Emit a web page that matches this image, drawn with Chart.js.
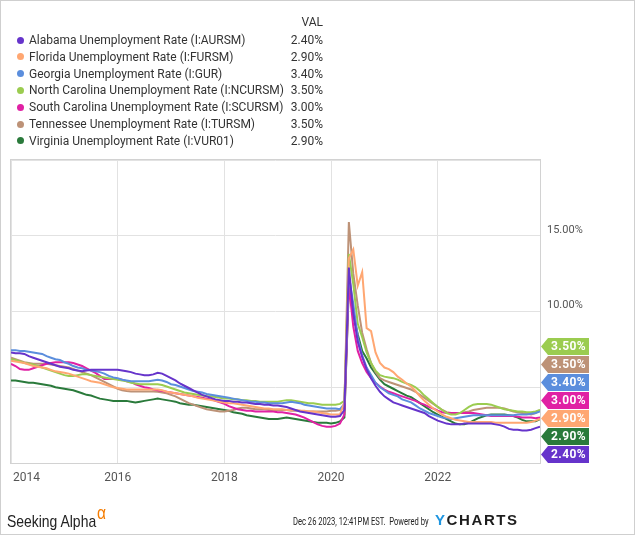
<!DOCTYPE html>
<html>
<head>
<meta charset="utf-8">
<script src="https://cdn.jsdelivr.net/npm/chart.js@4"></script>
<style>
  body { margin: 0; background: #fff; font-family: Roboto, sans-serif; }
  #wrap { position: relative; width: 635px; height: 535px; overflow: hidden; background: #fff; }
  #chart { position: absolute; left: 0; top: 0; }
  #frame { position: absolute; left: 0; top: 0; width: 635px; height: 535px; box-sizing: border-box; border: 1px solid #cfcfcf; pointer-events: none; }
  #legend { position: absolute; left: 0; top: 0; font-size: 12px; color: #333; }
  .row { position: absolute; height: 16px; line-height: 16px; white-space: nowrap; }
  .dot { position: absolute; width: 7px; height: 7px; border-radius: 50%; }
  .val { position: absolute; width: 60px; text-align: right; }
  #sa { position: absolute; left: 7px; top: 503px; font-family: "Liberation Sans", sans-serif; font-size: 17px; color: #222; transform: scaleX(0.82); transform-origin: left; white-space: nowrap; }
  #sa sup { color: #f57c00; font-size: 19px; position: relative; top: -1px; margin-left: 1px; }
  #stamp { position: absolute; left: 293px; top: 515px; font-size: 11px; color: #222; transform: scaleX(0.69); transform-origin: left; white-space: nowrap; }
  #yc { position: absolute; left: 435px; top: 511px; font-family: "Liberation Sans", sans-serif; font-weight: bold; font-size: 15px; letter-spacing: 1.6px; color: #1d1d1d; white-space: nowrap; }
  #yc span { color: #1e95e0; }
</style>
</head>
<body>
<div id="wrap">
  <canvas id="chart" width="635" height="535"></canvas>
  <div id="legend"></div>
  <div id="sa">Seeking Alpha<sup>α</sup></div>
  <div id="stamp">Dec 26 2023, 12:41PM EST.&nbsp;&nbsp;Powered by</div>
  <div id="yc"><span>Y</span>CHARTS</div>
  <div id="frame"></div>
</div>
<script>
// monthly values, Dec 2013 .. Nov 2023, plotted at month end
const startYear = 2013;
const startMonth = 12;

const names = [
  'Alabama Unemployment Rate (I:AURSM)',
  'Florida Unemployment Rate (I:FURSM)',
  'Georgia Unemployment Rate (I:GUR)',
  'North Carolina Unemployment Rate (I:NCURSM)',
  'South Carolina Unemployment Rate (I:SCURSM)',
  'Tennessee Unemployment Rate (I:TURSM)',
  'Virginia Unemployment Rate (I:VUR01)',
];
const colors = ['#6634cb', '#ffa772', '#5b8edd', '#9bcc50', '#e021a4', '#bd9277', '#2a7a3b'];

const alabama = [7.3,
  7.25, 7.25, 7.2, 7.05, 6.95, 6.85, 6.75, 6.65, 6.55, 6.45, 6.35, 6.3,
  6.25, 6.15, 6.1, 6.05, 6.1, 6.15, 6.15, 6.15, 6.15, 6.15, 6.15, 6.15,
  6.1, 6.05, 6.0, 5.9, 5.85, 5.8, 5.8, 5.85, 5.95, 5.9, 5.75, 5.6,
  5.45, 5.25, 5.1, 4.95, 4.8, 4.65, 4.5, 4.4, 4.3, 4.2, 4.15, 4.1,
  4.1, 4.05, 4.05, 4.0, 4.0, 3.95, 3.9, 3.9, 3.85, 3.85, 3.8, 3.8,
  3.75, 3.7, 3.6, 3.5, 3.4, 3.35, 3.3, 3.25, 3.2, 3.15, 3.1, 3.05,
  3.05, 3.1, 3.5, 12.9, 9.9, 8.0, 7.0, 6.2, 5.6, 5.1, 4.7, 4.4,
  4.2, 4.0, 3.9, 3.8, 3.7, 3.6, 3.5, 3.4, 3.3, 3.1, 2.95, 2.8,
  2.7, 2.6, 2.55, 2.55, 2.55, 2.6, 2.6, 2.6, 2.6, 2.6, 2.6, 2.6,
  2.55, 2.5, 2.4, 2.25, 2.2, 2.2, 2.15, 2.15, 2.2, 2.3, 2.4];

const florida = [6.75,
  6.7, 6.65, 6.6, 6.5, 6.4, 6.35, 6.3, 6.25, 6.15, 6.05, 6.0, 5.95,
  5.9, 5.8, 5.7, 5.6, 5.5, 5.4, 5.35, 5.3, 5.2, 5.1, 5.0, 4.95,
  4.9, 4.85, 4.85, 4.85, 4.85, 4.85, 4.85, 4.85, 4.85, 4.8, 4.7, 4.65,
  4.6, 4.55, 4.5, 4.45, 4.4, 4.3, 4.25, 4.2, 4.15, 4.1, 4.05, 4.0,
  3.95, 3.95, 3.9, 3.85, 3.8, 3.75, 3.7, 3.65, 3.6, 3.6, 3.55, 3.55,
  3.55, 3.5, 3.5, 3.5, 3.45, 3.45, 3.4, 3.4, 3.35, 3.3, 3.25, 3.2,
  3.2, 3.2, 4.0, 13.5, 14.1, 11.7, 12.6, 8.9, 8.7, 7.3, 6.6, 6.3,
  6.2, 6.0, 5.7, 5.5, 5.25, 5.05, 4.75, 4.4, 4.1, 3.85, 3.6, 3.4,
  3.2, 3.05, 2.95, 2.85, 2.8, 2.75, 2.7, 2.7, 2.7, 2.7, 2.7, 2.7,
  2.65, 2.65, 2.65, 2.65, 2.65, 2.65, 2.65, 2.65, 2.7, 2.8, 2.9];

const georgia = [7.45,
  7.45, 7.4, 7.4, 7.35, 7.3, 7.25, 7.2, 7.05, 6.95, 6.85, 6.8, 6.65,
  6.55, 6.4, 6.3, 6.25, 6.15, 6.1, 6.05, 6.0, 5.9, 5.75, 5.65, 5.6,
  5.5, 5.45, 5.4, 5.4, 5.4, 5.4, 5.4, 5.45, 5.5, 5.45, 5.35, 5.2,
  5.15, 5.05, 4.95, 4.85, 4.75, 4.7, 4.65, 4.55, 4.5, 4.45, 4.4, 4.35,
  4.3, 4.25, 4.2, 4.15, 4.1, 4.05, 4.05, 4.0, 4.0, 3.95, 3.95, 3.95,
  3.95, 4.0, 4.05, 4.0, 3.95, 3.85, 3.8, 3.75, 3.7, 3.65, 3.6, 3.6,
  3.6, 3.55, 3.9, 12.4, 10.5, 8.3, 7.1, 6.3, 5.8, 5.3, 5.0, 4.8,
  4.6, 4.5, 4.4, 4.2, 4.1, 4.0, 3.8, 3.6, 3.45, 3.3, 3.2, 3.1,
  3.0, 2.95, 2.9, 2.95, 3.0, 3.05, 3.1, 3.15, 3.15, 3.15, 3.15, 3.15,
  3.15, 3.15, 3.15, 3.15, 3.15, 3.2, 3.2, 3.2, 3.25, 3.3, 3.4];

const northCarolina = [6.85,
  6.8, 6.7, 6.6, 6.55, 6.5, 6.4, 6.3, 6.2, 6.1, 6.0, 5.9, 5.8,
  5.75, 5.75, 5.8, 5.85, 5.85, 5.8, 5.75, 5.7, 5.65, 5.6, 5.55, 5.5,
  5.45, 5.4, 5.3, 5.25, 5.2, 5.2, 5.2, 5.2, 5.2, 5.15, 5.05, 4.95,
  4.85, 4.75, 4.65, 4.6, 4.55, 4.5, 4.45, 4.4, 4.4, 4.35, 4.3, 4.25,
  4.25, 4.2, 4.2, 4.15, 4.15, 4.1, 4.1, 4.05, 4.05, 4.05, 4.05, 4.05,
  4.1, 4.15, 4.15, 4.1, 4.05, 4.0, 3.95, 3.95, 3.9, 3.85, 3.85, 3.85,
  3.85, 3.9, 4.1, 13.8, 11.8, 9.2, 8.3, 7.3, 6.6, 6.1, 5.8, 5.7,
  5.65, 5.6, 5.5, 5.35, 5.25, 5.15, 5.0, 4.75, 4.45, 4.2, 3.95, 3.7,
  3.5, 3.3, 3.2, 3.2, 3.3, 3.5, 3.7, 3.85, 3.9, 3.9, 3.9, 3.85,
  3.75, 3.65, 3.55, 3.5, 3.45, 3.4, 3.4, 3.35, 3.35, 3.4, 3.5];

const southCarolina = [6.55,
  6.4, 6.2, 6.15, 6.15, 6.25, 6.35, 6.45, 6.55, 6.6, 6.65, 6.65, 6.65,
  6.65, 6.6, 6.5, 6.4, 6.25, 6.1, 5.95, 5.75, 5.55, 5.55, 5.55, 5.55,
  5.5, 5.4, 5.35, 5.2, 5.1, 5.0, 4.95, 4.85, 4.8, 4.75, 4.7, 4.65,
  4.6, 4.55, 4.5, 4.45, 4.4, 4.35, 4.3, 4.25, 4.2, 4.1, 4.0, 3.9,
  3.75, 3.65, 3.55, 3.5, 3.45, 3.45, 3.4, 3.4, 3.4, 3.4, 3.4, 3.35,
  3.35, 3.3, 3.25, 3.2, 3.1, 3.0, 2.85, 2.7, 2.55, 2.45, 2.4, 2.4,
  2.45, 2.6, 3.2, 11.8, 9.0, 7.4, 6.6, 6.0, 5.6, 5.3, 5.05, 4.85,
  4.7, 4.6, 4.5, 4.4, 4.3, 4.2, 4.1, 3.95, 3.85, 3.7, 3.6, 3.45,
  3.35, 3.3, 3.3, 3.3, 3.3, 3.3, 3.3, 3.3, 3.25, 3.2, 3.15, 3.1,
  3.1, 3.1, 3.1, 3.1, 3.1, 3.05, 3.0, 3.0, 3.0, 2.95, 3.0];

const tennessee = [6.95,
  6.85, 6.75, 6.65, 6.6, 6.55, 6.55, 6.55, 6.55, 6.5, 6.45, 6.4, 6.35,
  6.3, 6.2, 6.1, 6.0, 5.9, 5.8, 5.65, 5.5, 5.35, 5.2, 5.05, 4.9,
  4.8, 4.75, 4.72, 4.72, 4.72, 4.72, 4.72, 4.72, 4.7, 4.65, 4.6, 4.5,
  4.4, 4.25, 4.1, 3.95, 3.85, 3.75, 3.65, 3.55, 3.5, 3.45, 3.4, 3.4,
  3.45, 3.5, 3.6, 3.65, 3.65, 3.6, 3.55, 3.55, 3.55, 3.5, 3.5, 3.5,
  3.5, 3.5, 3.45, 3.45, 3.45, 3.4, 3.4, 3.4, 3.4, 3.4, 3.4, 3.45,
  3.45, 3.5, 3.65, 15.9, 12.5, 10.4, 8.6, 7.5, 6.6, 6.0, 5.6, 5.45,
  5.35, 5.25, 5.15, 5.05, 4.95, 4.85, 4.7, 4.5, 4.3, 4.1, 3.9, 3.7,
  3.5, 3.35, 3.3, 3.3, 3.3, 3.35, 3.4, 3.5, 3.55, 3.6, 3.65, 3.65,
  3.65, 3.65, 3.6, 3.5, 3.4, 3.35, 3.3, 3.25, 3.2, 3.3, 3.5];

const virginia = [5.45,
  5.45, 5.4, 5.35, 5.3, 5.3, 5.25, 5.2, 5.15, 5.1, 5.0, 4.95, 4.9,
  4.85, 4.8, 4.7, 4.6, 4.5, 4.45, 4.35, 4.25, 4.2, 4.15, 4.1, 4.1,
  4.1, 4.1, 4.05, 4.0, 4.05, 4.1, 4.15, 4.2, 4.25, 4.2, 4.15, 4.1,
  4.05, 3.95, 3.9, 3.85, 3.85, 3.8, 3.75, 3.7, 3.65, 3.6, 3.55, 3.5,
  3.45, 3.35, 3.3, 3.25, 3.15, 3.1, 3.05, 3.0, 2.95, 2.9, 2.9, 2.9,
  2.95, 3.0, 2.95, 2.9, 2.85, 2.8, 2.75, 2.7, 2.65, 2.65, 2.65, 2.6,
  2.65, 2.75, 3.0, 11.7, 9.8, 8.5, 7.4, 6.9, 6.3, 5.9, 5.5, 5.2,
  5.05, 4.9, 4.75, 4.6, 4.45, 4.35, 4.15, 3.95, 3.75, 3.55, 3.35, 3.2,
  3.05, 2.9, 2.75, 2.6, 2.55, 2.55, 2.65, 2.8, 2.95, 3.05, 3.15, 3.2,
  3.2, 3.2, 3.2, 3.15, 3.1, 3.0, 2.85, 2.75, 2.75, 2.75, 2.9];

const seriesValues = [alabama, florida, georgia, northCarolina, southCarolina, tennessee, virginia];

const xTicks = [2014, 2016, 2018, 2020, 2022];
const yTicks = [0, 5, 10, 15, 20];
const yLabels = [10, 15];

function monthEnd(i) {
  return startYear + (startMonth + i) / 12;
}

function pct(v) {
  return v.toFixed(2) + '%';
}

// legend table
const legend = document.getElementById('legend');
const head = document.createElement('div');
head.className = 'val';
head.style.cssText = 'left:263px;top:14px;line-height:16px;';
head.textContent = 'VAL';
legend.appendChild(head);
names.forEach((name, i) => {
  const y = 32 + i * 16.8;
  const dot = document.createElement('div');
  dot.className = 'dot';
  dot.style.cssText = `left:16.5px;top:${y + 4.5}px;background:${colors[i]};`;
  legend.appendChild(dot);
  const row = document.createElement('div');
  row.className = 'row';
  row.style.cssText = `left:29px;top:${y}px;`;
  row.textContent = name;
  legend.appendChild(row);
  const vals = seriesValues[i];
  const val = document.createElement('div');
  val.className = 'val';
  val.style.cssText = `left:263px;top:${y}px;line-height:16px;`;
  val.textContent = pct(vals[vals.length - 1]);
  legend.appendChild(val);
});

const framePlugin = {
  id: 'frame',
  beforeDatasetsDraw(chart) {
    const { ctx, chartArea: a } = chart;
    ctx.save();
    ctx.strokeStyle = '#d2d2d2';
    ctx.lineWidth = 1;
    ctx.strokeRect(Math.round(a.left) - 0.5, Math.round(a.top) - 0.5, a.right - a.left + 1, a.bottom - a.top + 1);
    ctx.restore();
  },
};

const xLabelPlugin = {
  id: 'xLabels',
  afterDraw(chart) {
    const { ctx, chartArea: a, scales } = chart;
    ctx.save();
    ctx.font = '12px Roboto';
    ctx.fillStyle = '#555';
    ctx.textBaseline = 'middle';
    xTicks.forEach((t, i) => {
      const px = scales.x.getPixelForValue(t);
      ctx.textAlign = i === 0 ? 'left' : 'center';
      ctx.fillText(String(t), i === 0 ? px + 2 : px, a.bottom + 15);
    });
    ctx.restore();
  },
};

const flagPlugin = {
  id: 'flags',
  afterDraw(chart) {
    const { ctx, chartArea: a, scales } = chart;
    const h = 17;
    const step = 18;
    const items = chart.data.datasets.map((ds, i) => {
      const last = ds.data[ds.data.length - 1].y;
      return { i, v: last, color: ds.borderColor, want: scales.y.getPixelForValue(last) };
    }).sort((p, q) => q.v - p.v || p.i - q.i);
    const mean = items.reduce((s, it) => s + it.want, 0) / items.length;
    let first = mean - (items.length - 1) * step / 2;
    first = Math.min(first, a.bottom - h / 2 - (items.length - 1) * step);
    first = Math.max(first, a.top + h / 2);
    ctx.save();
    ctx.font = 'bold 12px Roboto';
    ctx.textAlign = 'center';
    ctx.textBaseline = 'middle';
    if ('letterSpacing' in ctx) ctx.letterSpacing = '0.4px';
    items.forEach((it, k) => {
      const cy = first + k * step;
      const x0 = a.right + 1;
      ctx.fillStyle = it.color;
      ctx.beginPath();
      ctx.moveTo(x0, cy);
      ctx.lineTo(x0 + 7, cy - h / 2);
      ctx.lineTo(x0 + 48, cy - h / 2);
      ctx.lineTo(x0 + 48, cy + h / 2);
      ctx.lineTo(x0 + 7, cy + h / 2);
      ctx.closePath();
      ctx.fill();
      ctx.fillStyle = '#fff';
      ctx.fillText(pct(it.v), x0 + 27.5, cy + 0.5);
    });
    ctx.restore();
  },
};

new Chart(document.getElementById('chart'), {
  type: 'line',
  data: {
    datasets: seriesValues.map((vals, i) => ({
      label: names[i],
      data: vals.map((v, j) => ({ x: monthEnd(j), y: v })),
      borderColor: colors[i],
      backgroundColor: colors[i],
      borderWidth: 2,
      pointRadius: 0,
      tension: 0,
    })),
  },
  options: {
    responsive: false,
    animation: false,
    layout: { padding: { top: 160, left: 11, bottom: 72, right: 0 } },
    plugins: { legend: { display: false }, tooltip: { enabled: false } },
    scales: {
      x: {
        type: 'linear',
        min: 2014,
        max: monthEnd(seriesValues[0].length - 1),
        afterBuildTicks: (s) => { s.ticks = xTicks.map((v) => ({ value: v })); },
        afterFit: (s) => { s.height = 0; },
        ticks: { display: false },
        grid: { color: '#e2e2e2', drawTicks: false },
        border: { display: false },
      },
      y: {
        position: 'right',
        min: 0,
        max: 20,
        afterBuildTicks: (s) => { s.ticks = yTicks.map((v) => ({ value: v })); },
        afterFit: (s) => { s.width = 95; },
        ticks: {
          padding: 7,
          labelOffset: -6,
          color: '#555',
          font: { family: 'Roboto', size: 11 },
          callback: (v) => (yLabels.includes(v) ? pct(v) : ''),
        },
        grid: { color: '#e2e2e2', drawTicks: false },
        border: { display: false },
      },
    },
  },
  plugins: [framePlugin, xLabelPlugin, flagPlugin],
});
</script>
</body>
</html>
